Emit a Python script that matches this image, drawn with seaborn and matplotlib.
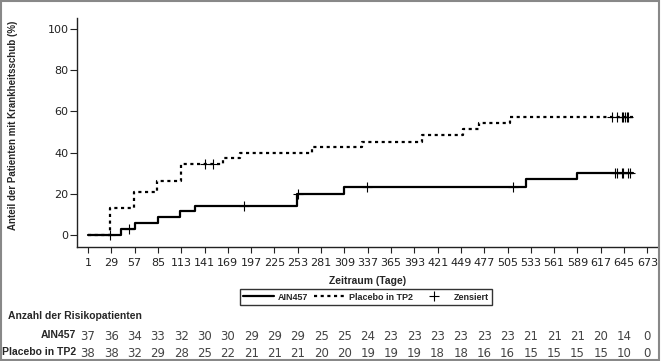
import numpy as np
import pandas as pd
import matplotlib
matplotlib.use("Agg")
import matplotlib.pyplot as plt
from matplotlib import font_manager
from matplotlib.lines import Line2D
from matplotlib.patches import Rectangle
import seaborn as sns

# Kaplan-Meier steps (day, cumulative % with flare)
ain_days = [1, 41, 57, 85, 112, 130, 252, 309, 527, 588, 656]
ain_pct = [0, 2.8, 5.7, 8.5, 11.4, 14.1, 20.0, 23.1, 27.0, 30.3, 30.3]
pbo_days = [1, 28, 56, 84, 113, 163, 184, 270, 330, 402, 452, 471, 508, 656]
pbo_pct = [0, 13.2, 21.1, 26.3, 34.4, 37.2, 39.8, 42.9, 45.3, 48.5, 51.5, 54.2, 57.1, 57.1]

# censored observations (days)
ain_cens = [27, 50, 188, 253, 336, 511, 634, 637, 642, 644, 650, 652]
pbo_cens = [141, 151, 630, 636, 642, 644, 646, 648, 650]

# number at risk table
risk_days = [1, 29, 57, 85, 113, 141, 169, 197, 225, 253, 281, 309, 337,
             365, 393, 421, 449, 477, 505, 533, 561, 589, 617, 645, 673]
ain_risk = [37, 36, 34, 33, 32, 30, 30, 29, 29, 29, 25, 25, 24, 23, 23, 23,
            23, 23, 23, 21, 21, 21, 20, 14, 0]
pbo_risk = [38, 38, 32, 29, 28, 25, 22, 21, 21, 21, 20, 20, 19, 19, 19, 18,
            18, 16, 16, 15, 15, 15, 15, 10, 0]

sns.set_theme(style="white")
names = {f.name for f in font_manager.fontManager.ttflist}
narrow = "Liberation Sans Narrow" if "Liberation Sans Narrow" in names else "DejaVu Sans"
plt.rcParams["font.family"] = ["Liberation Sans", "DejaVu Sans"]


def censor_y(days, pct, cens):
    idx = np.searchsorted(days, cens, side="right") - 1
    return np.asarray(pct)[idx]


steps = pd.concat([
    pd.DataFrame({"day": ain_days, "pct": ain_pct, "arm": "AIN457"}),
    pd.DataFrame({"day": pbo_days, "pct": pbo_pct, "arm": "Placebo in TP2"}),
])
cens = pd.concat([
    pd.DataFrame({"day": ain_cens, "pct": censor_y(ain_days, ain_pct, ain_cens)}),
    pd.DataFrame({"day": pbo_cens, "pct": censor_y(pbo_days, pbo_pct, pbo_cens)}),
])

fig = plt.figure(figsize=(6.61, 3.61), dpi=100)
ax = fig.add_axes([0.1165, 0.316, 0.878, 0.634])

sns.lineplot(data=steps, x="day", y="pct", hue="arm", style="arm",
             palette={"AIN457": "black", "Placebo in TP2": "black"},
             dashes={"AIN457": "", "Placebo in TP2": (1.4, 1.6)},
             drawstyle="steps-post", linewidth=1.6, legend=False, ax=ax,
             estimator=None)
sns.scatterplot(data=cens, x="day", y="pct", marker="+", color="black",
                s=50, linewidth=0.8, legend=False, ax=ax, zorder=3)

ax.set_xlim(-12.2, 685)
ax.set_ylim(-5.8, 105.3)
ax.set_xticks(risk_days)
ax.set_yticks([0, 20, 40, 60, 80, 100])
ax.tick_params(axis="x", length=4, width=0.8, pad=4, labelsize=8,
               colors="#222", bottom=True)
ax.tick_params(axis="y", length=5, width=0.8, pad=1, labelsize=8,
               colors="#222", left=True)
for lab in ax.get_xticklabels() + ax.get_yticklabels():
    lab.set_family([narrow, "DejaVu Sans"])
for side in ["top", "right"]:
    ax.spines[side].set_visible(False)
for side in ["left", "bottom"]:
    ax.spines[side].set_color("#222")
    ax.spines[side].set_linewidth(1.0)

ax.set_xlabel("Zeitraum (Tage)", fontsize=7.5, fontweight="bold")
ax.xaxis.set_label_coords(0.5, -0.125)
ax.set_ylabel("Anteil der Patienten mit Krankheitsschub (%)", fontsize=7,
              fontweight="bold")
ax.yaxis.set_label_coords(-0.101, 0.53)

handles = [
    Line2D([], [], color="black", lw=1.6),
    Line2D([], [], color="black", lw=1.6, ls=(0, (1.4, 1.6))),
    Line2D([], [], color="black", ls="none", marker="+", markersize=7, mew=0.8),
]
leg = fig.legend(handles, ["AIN457", "Placebo in TP2", "Zensiert"],
                 loc="center", bbox_to_anchor=(366 / 661, 1 - 297 / 361),
                 ncol=3, frameon=True, fancybox=False,
                 borderpad=0.35, handlelength=3.4, handletextpad=0.5,
                 columnspacing=0.6, prop={"weight": "bold", "size": 6.5})
leg.get_frame().set_edgecolor("black")
leg.get_frame().set_linewidth(1.0)

# number at risk table
fig.text(8 / 661, 1 - 316 / 361, "Anzahl der Risikopatienten", fontsize=7.5,
         fontweight="bold", va="center", ha="left")
row_y = [1 - 335 / 361, 1 - 352 / 361]
for label, yy in zip(["AIN457", "Placebo in TP2"], row_y):
    fig.text(76 / 661, yy, label, fontsize=7.5, fontweight="bold",
             va="center", ha="right")
trans = matplotlib.transforms.blended_transform_factory(ax.transData, fig.transFigure)
for counts, yy in zip([ain_risk, pbo_risk], row_y):
    for d, n in zip(risk_days, counts):
        ax.text(d, yy - 0.004, str(n), transform=trans, ha="center", va="center",
                fontsize=8.5, color="#444", family=[narrow, "DejaVu Sans"],
                clip_on=False)

# grey frame round the whole picture
fig.patches.append(Rectangle((0.002, 0.003), 0.995, 0.993, transform=fig.transFigure,
                             fill=False, edgecolor="#888", linewidth=1.5))

fig.savefig("out.png", dpi=100)
